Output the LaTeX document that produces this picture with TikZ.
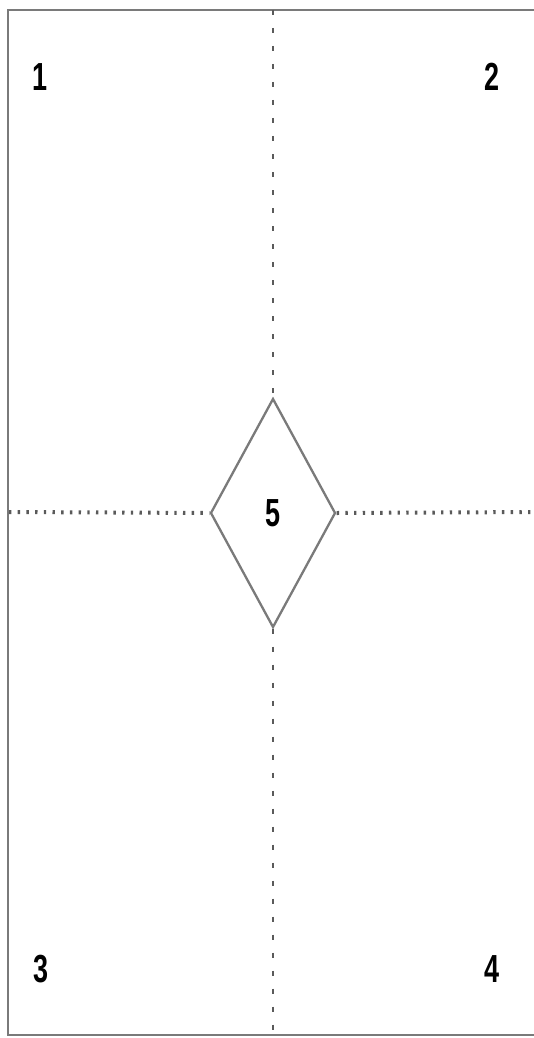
\documentclass[tikz,border=0pt]{standalone}
\usepackage{fontspec}
\setmainfont{Liberation Sans}
\usetikzlibrary{shapes.geometric,calc}
\definecolor{frameGray}{HTML}{7A7A7A}
\definecolor{dotGray}{HTML}{5A5A5A}
\newcommand{\cornerfont}{\bfseries\fontsize{27}{27}\selectfont}
\newcommand{\tallnum}[1]{\scalebox{1}[1.45]{\cornerfont #1}}
\tikzset{
  quadnum/.style={inner sep=0pt,text=black},
  midbox/.style={diamond,draw=frameGray,line width=2.3pt,fill=white,inner sep=0pt,
    minimum width=125pt,minimum height=229pt},
  vdots/.style={draw=dotGray,line width=2pt,dash pattern=on 5pt off 13pt},
  hdots/.style={draw=dotGray,line width=4pt,dash pattern=on 2.4pt off 6.3pt}
}

\begin{document}
\begin{tikzpicture}[x=1pt,y=-1pt]
        \useasboundingbox (0,0) rectangle (533,1038);
        % outer frame, open on the right
        \draw[frameGray,line width=2.2pt] (540,10) -- (8,10) -- (8,1035) -- (540,1035);
        \coordinate (topedge) at (271,10);
        \coordinate (botedge) at (271,1035);
        \coordinate (leftedge) at (9,512);
        \coordinate (rightedge) at (540,512);
        % centre diamond
        \node[midbox] (mid) at (273,513) {\tallnum{5}};
        % dotted cross
        \draw[vdots] (mid.north |- topedge) -- (mid.north);
        \draw[vdots] (mid.south) -- (mid.south |- botedge);
        \draw[hdots] (leftedge) -- (mid.west);
        \draw[hdots] (mid.east) -- (rightedge);
        % quadrant numbers
        \node[quadnum] (q1) at (40,77) {\tallnum{1}};
        \node[quadnum] (q2) at (492,77) {\tallnum{2}};
        \node[quadnum] (q3) at (41,969) {\tallnum{3}};
        \node[quadnum] (q4) at (492,969) {\tallnum{4}};
      \end{tikzpicture}
\end{document}
